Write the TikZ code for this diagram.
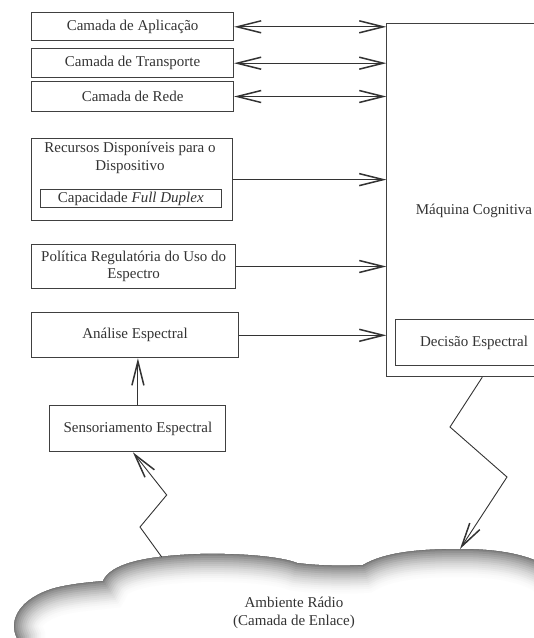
\documentclass[tikz,border=0pt]{standalone}
\usepackage{fontspec}
\setmainfont{Liberation Serif}
\usetikzlibrary{arrows.meta}
\tikzset{barb/.tip={Straight Barb[length=24pt,width=12pt,line width=1.5pt]}}
\newcommand{\nuvem}{(17,720) -- (17,638) .. controls (8,620) and (20,598) .. (55,588) .. controls (75,583) and (95,582) .. (103,581) .. controls (110,565) and (140,556) .. (200,554) .. controls (250,553) and (285,558) .. (297,563) .. controls (320,566) and (345,566) .. (363,565) .. controls (385,552) and (420,549) .. (460,549) .. controls (500,549) and (530,555) .. (550,568) -- (620,620) -- (620,720) -- cycle}
\begin{document}
\begin{tikzpicture}[x=1pt,y=-1pt,
  texto/.style={inner sep=0pt, align=center, text=black!80, font=\fontsize{15}{17.5}\selectfont},
  caixa/.style={texto, draw=black!75, line width=0.9pt},
  seta/.style={draw=black!80, line width=0.9pt, -barb},
  dupla/.style={draw=black!80, line width=0.9pt, barb-barb}]
\useasboundingbox (0,0) rectangle (534,638);
\clip (0,0) rectangle (534,638);
\begin{scope}
\clip \nuvem;
\fill[white] \nuvem;
\foreach \d in {30,28,...,2} {
  \pgfmathsetmacro\g{int(54*(1-\d/32)^1.8)}
  \pgfmathsetmacro\w{2*\d}
  \draw[line width=\w pt, black!\g] \nuvem;
}
\draw[line width=1.2pt, black!55] \nuvem;
\end{scope}
\node[texto] (amb) at (294,613) {Ambiente Rádio\\(Camada de Enlace)};
\node[caixa, minimum width=202pt, minimum height=28pt] (apl) at (132.6,26.8) {Camada de Aplicação};
\node[caixa, minimum width=202pt, minimum height=29pt] (tra) at (132.6,63.2) {Camada de Transporte};
\node[caixa, minimum width=202pt, minimum height=30pt] (rede) at (132.6,96.5) {Camada de Rede};
\node[caixa, minimum width=201pt, minimum height=82pt] (rec) at (132.2,179.6) {};
\node[texto] (rectxt) at (130,158) {Recursos Disponíveis para o\\Dispositivo};
\node[caixa, minimum width=181pt, minimum height=18pt] (cap) at (130.8,198.9) {Capacidade \textit{Full Duplex}};
\node[caixa, minimum width=204pt, minimum height=44pt] (pol) at (133.7,266.5) {Política Regulatória do Uso do\\Espectro};
\node[caixa, minimum width=207pt, minimum height=45pt] (ana) at (135,335.3) {Análise Espectral};
\node[caixa, minimum width=176pt, minimum height=46pt] (sen) at (137.9,428.8) {Sensoriamento Espectral};
\node[caixa, minimum width=175pt, minimum height=353pt] (maq) at (474.3,200.2) {};
\node[texto] (maqtxt) at (474,211) {Máquina Cognitiva};
\node[caixa, minimum width=158pt, minimum height=46pt] (dec) at (474,342.7) {Decisão Espectral};
\coordinate (r1) at (161.7,557);
\coordinate (r2) at (140,527);
\coordinate (r3) at (166.7,495);
\coordinate (q1) at (450,427);
\coordinate (q2) at (507,477);
\coordinate (q3) at (460,549);
\draw[dupla] (apl.east) -- (apl.east -| maq.west);
\draw[dupla] (tra.east) -- (tra.east -| maq.west);
\draw[dupla] (rede.east) -- (rede.east -| maq.west);
\draw[seta] (rec.east) -- (rec.east -| maq.west);
\draw[seta] (pol.east) -- (pol.east -| maq.west);
\draw[seta] (ana.east) -- (ana.east -| maq.west);
\draw[seta] (sen.north) -- (sen.north |- ana.south);
\draw[seta] (r1) -- (r2) -- (r3) -- ([xshift=-5pt]sen.south);
\draw[seta] ([xshift=8pt]maq.south) -- (q1) -- (q2) -- (q3);
\end{tikzpicture}
\end{document}
